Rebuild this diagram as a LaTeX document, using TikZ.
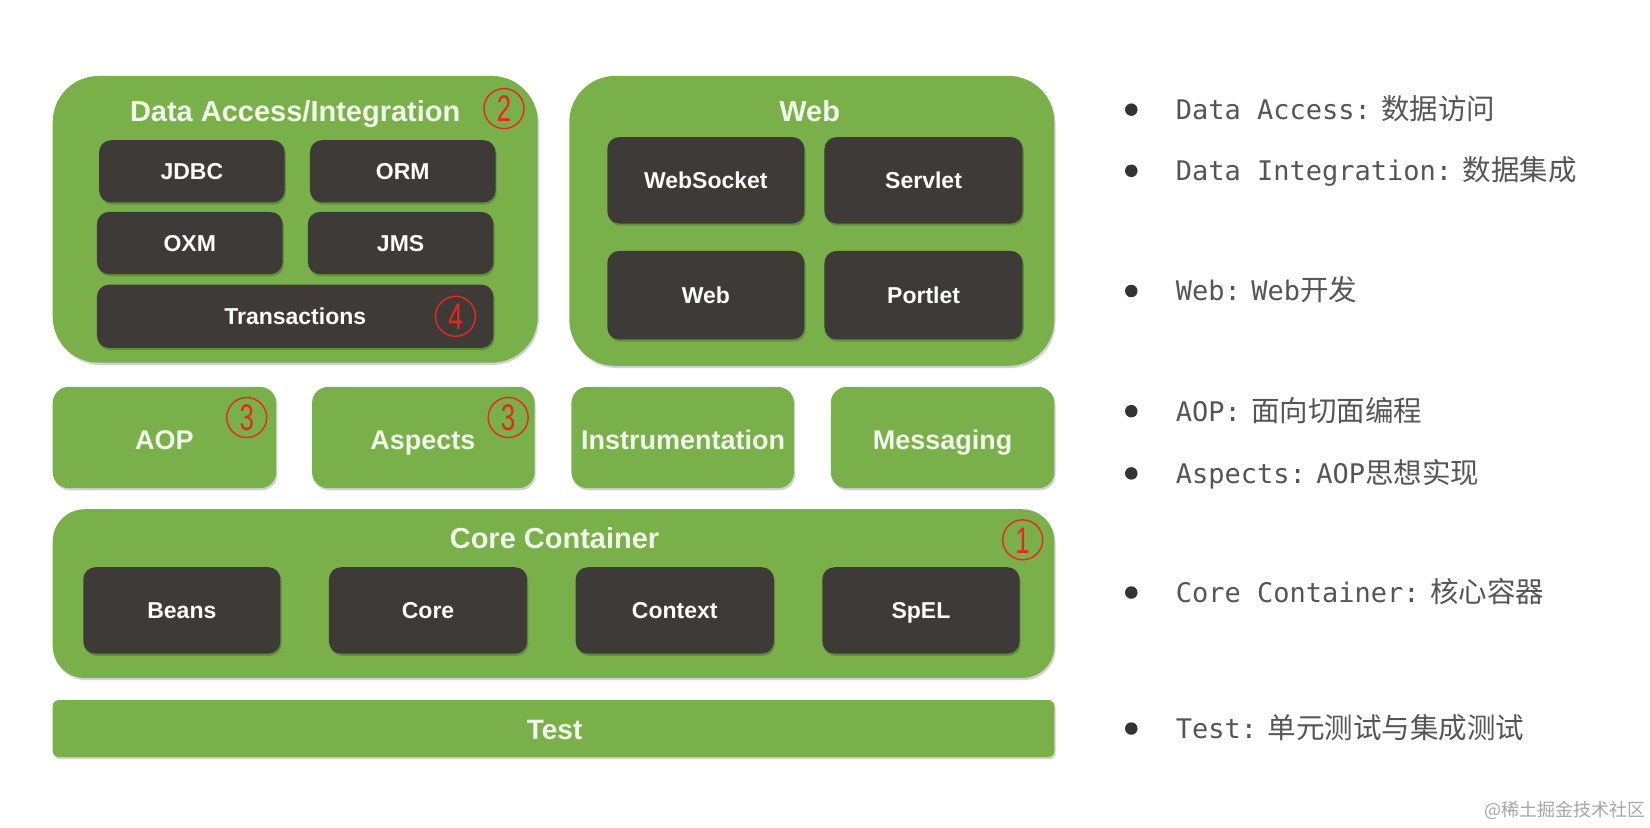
\documentclass[tikz,border=0pt]{standalone}
\usepackage{fontspec}
\setmainfont{Liberation Sans}
\newfontfamily\boxfont{Liberation Sans}
\newfontfamily\monofont{DejaVu Sans Mono}
\newfontfamily\cjkfont{Noto Sans CJK SC}
\usetikzlibrary{fit,shadows}
\definecolor{sgreen}{HTML}{7AB04A}
\definecolor{sdark}{HTML}{3E3A38}
\definecolor{stitle}{HTML}{F1F7EA}
\definecolor{sred}{HTML}{E8281E}
\definecolor{sgray}{HTML}{555555}
\definecolor{sbul}{HTML}{333333}
\newcommand\zh[1]{{\cjkfont\fontsize{28.5}{32}\selectfont #1}}
\newcommand\gap{\hspace{10.5pt}}
\begin{document}
\begin{tikzpicture}[x=1.0543pt,y=-1.0543pt,
  shd/.style={drop shadow={shadow xshift=1.2pt, shadow yshift=-2.2pt, opacity=0.18, fill=black}},
  gbox/.style={fill=sgreen, inner sep=0pt, draw=none, shd},
  dbox/.style={fill=sdark, inner sep=0pt, draw=none, rounded corners=12pt, shd},
  ttl/.style={text=stitle, inner sep=0pt, font=\boxfont\bfseries\fontsize{29}{29}\selectfont, text height=20.8pt, text depth=0pt},
  midl/.style={text=stitle, inner sep=0pt, font=\boxfont\bfseries\fontsize{27}{27}\selectfont, text height=19.3pt, text depth=0pt},
  lbl/.style={text=white, inner sep=0pt, font=\boxfont\bfseries\fontsize{23}{23}\selectfont, text height=16.5pt, text depth=0pt},
  num/.style={circle, draw=sred, line width=1.4pt, minimum size=40pt, inner sep=0pt, text=sred, font=\boxfont\fontsize{37}{37}\selectfont, text height=26.5pt, text depth=0pt},
  bul/.style={circle, fill=sbul, minimum size=12.5pt, inner sep=0pt},
  desc/.style={anchor=west, inner sep=0pt, text=sgray, font=\monofont\fontsize{27}{30}\selectfont, text height=19.7pt, text depth=0pt},
  wm/.style={inner sep=0pt, text=black!35, font=\cjkfont\fontsize{18}{19}\selectfont}
]
\useasboundingbox (0,0) rectangle (1565,784.4);

% ---------- Data Access / Integration ----------
\node[gbox, rounded corners=46pt, fit={(50,72) (510,344)}] (da) {};
\node[dbox, fit={(94,133) (270,192)}] (jdbc) {};
\node[dbox, fit={(294,133) (470,192)}] (orm) {};
\node[dbox, fit={(92,201) (268,260)}] (oxm) {};
\node[dbox, fit={(292,201) (468,260)}] (jms) {};
\node[dbox, fit={(92,270) (468,330)}] (trans) {};
\node[ttl] (datitle) at (280,105) {Data Access/Integration};
\node[lbl] at (jdbc.center) {JDBC};
\node[lbl] at (orm.center) {ORM};
\node[lbl] at (oxm.center) {OXM};
\node[lbl] at (jms.center) {JMS};
\node[lbl] at (trans.center) {Transactions};
\node[num] (n2) at (478,103) {\scalebox{0.7}[1]{2}};
\node[num] (n4) at (432,300) {\scalebox{0.7}[1]{4}};

% ---------- Web ----------
\node[gbox, rounded corners=46pt, fit={(540,72) (1000,347)}] (web) {};
\node[dbox, fit={(576,130) (763,212)}] (websocket) {};
\node[dbox, fit={(782,130) (970,212)}] (servlet) {};
\node[dbox, fit={(576,238) (763,322)}] (webm) {};
\node[dbox, fit={(782,238) (970,322)}] (portlet) {};
\node[ttl] (webtitle) at (768,105) {Web};
\node[lbl] at (websocket.center) {WebSocket};
\node[lbl] at (servlet.center) {Servlet};
\node[lbl] at (webm.center) {Web};
\node[lbl] at (portlet.center) {Portlet};

% ---------- middle row ----------
\node[gbox, rounded corners=16pt, fit={(50,367) (262,463)}] (aop) {};
\node[gbox, rounded corners=16pt, fit={(296,367) (507,463)}] (aspects) {};
\node[gbox, rounded corners=16pt, fit={(542,367) (753,463)}] (instr) {};
\node[gbox, rounded corners=16pt, fit={(788,367) (1000,463)}] (msg) {};
\node[midl] at (156,417) {AOP};
\node[midl] at (401,417) {Aspects};
\node[midl] at (648,417) {Instrumentation};
\node[midl] at (894,417) {Messaging};
\node[num] (n3a) at (234,396) {\scalebox{0.7}[1]{3}};
\node[num] (n3b) at (482,396) {\scalebox{0.7}[1]{3}};

% ---------- Core Container ----------
\node[gbox, rounded corners=32pt, fit={(50,483) (1000,643)}] (cc) {};
\node[dbox, fit={(79,538) (266,620)}] (beans) {};
\node[dbox, fit={(312,538) (500,620)}] (core) {};
\node[dbox, fit={(546,538) (734,620)}] (context) {};
\node[dbox, fit={(780,538) (967,620)}] (spel) {};
\node[ttl] (cctitle) at (526,510) {Core Container};
\node[lbl] at (beans.center) {Beans};
\node[lbl] at (core.center) {Core};
\node[lbl] at (context.center) {Context};
\node[lbl] at (spel.center) {SpEL};
\node[num] (n1) at (970,512) {\scalebox{0.7}[1]{1}};

% ---------- Test ----------
\node[gbox, rounded corners=6pt, fit={(50,664) (1000,718)}] (test) {};
\node[midl, font=\boxfont\bfseries\fontsize{28}{28}\selectfont, text height=20pt] at (526,692) {Test};

% ---------- right-hand notes ----------
\node[bul] (b1) at (1073,104) {};
\node[desc] (d1) at (1115,104) {Data Access:\gap\zh{数据访问}};
\node[bul] (b2) at (1073,162) {};
\node[desc] (d2) at (1115,162) {Data Integration:\gap\zh{数据集成}};
\node[bul] (b3) at (1073,276) {};
\node[desc] (d3) at (1115,276) {Web:\gap Web\zh{开发}};
\node[bul] (b4) at (1073,390) {};
\node[desc] (d4) at (1115,390) {AOP:\gap\zh{面向切面编程}};
\node[bul] (b5) at (1073,449) {};
\node[desc] (d5) at (1115,449) {Aspects:\gap AOP\zh{思想实现}};
\node[bul] (b6) at (1073,562) {};
\node[desc] (d6) at (1115,562) {Core Container:\gap\zh{核心容器}};
\node[bul] (b7) at (1073,691) {};
\node[desc] (d7) at (1115,691) {Test:\gap\zh{单元测试与集成测试}};

% ---------- watermark ----------
\node[wm] (wm) at (1484,769) {@稀土掘金技术社区};
\end{tikzpicture}
\end{document}
